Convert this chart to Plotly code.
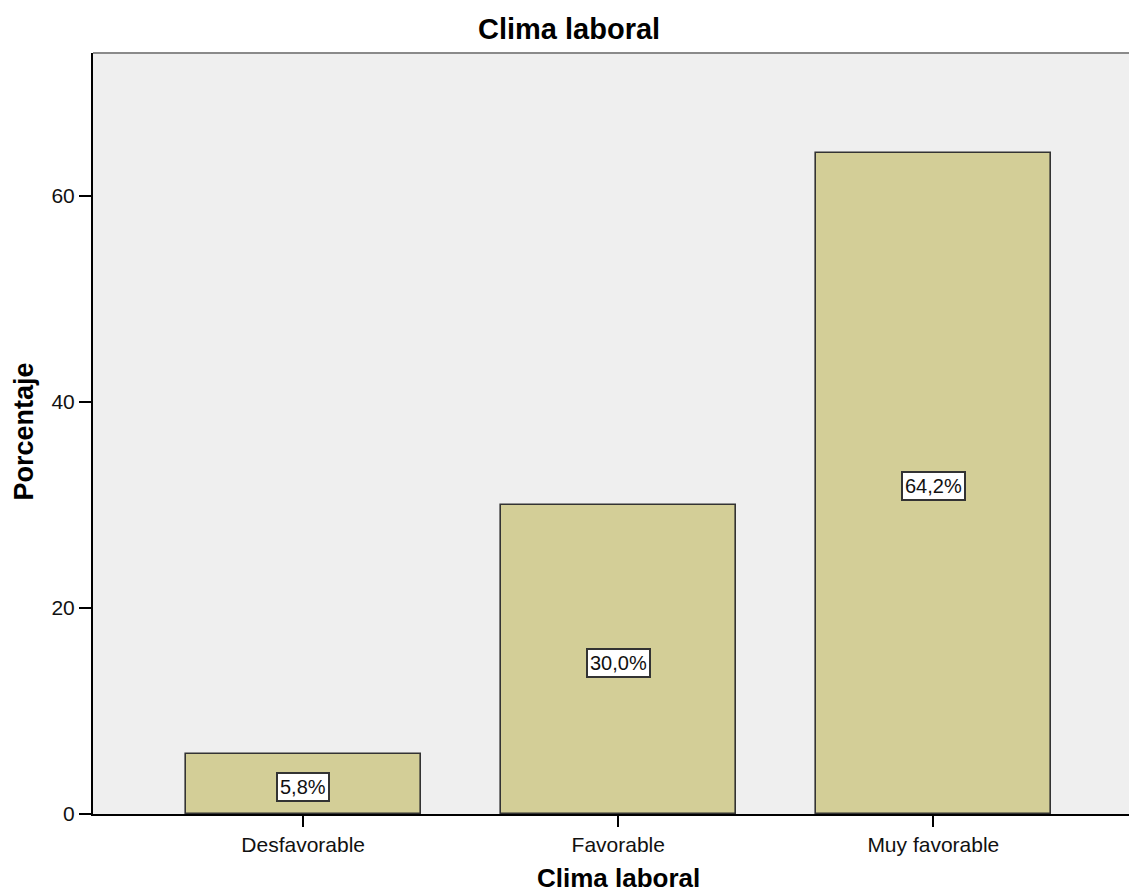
import plotly.graph_objects as go

# Distribution of "Clima laboral" responses (percent)
categories = ["Desfavorable", "Favorable", "Muy favorable"]
percentages = [5.8, 30.0, 64.2]
bar_labels = ["5,8%", "30,0%", "64,2%"]
y_ticks = [0, 20, 40, 60]

FONT = "Liberation Sans, Arial, sans-serif"
BAR_FILL = "#D3CE97"
BAR_EDGE = "#333333"

fig = go.Figure()
fig.add_trace(go.Bar(
    x=list(range(len(categories))),
    y=percentages,
    width=0.746,
    marker=dict(color=BAR_FILL, line=dict(color=BAR_EDGE, width=1.6)),
    hoverinfo="skip",
))

# Boxed value labels at mid-height of each bar
for i, (v, lab) in enumerate(zip(percentages, bar_labels)):
    fig.add_annotation(
        x=i, y=v / 2, text=lab, showarrow=False, yshift=-3,
        font=dict(family=FONT, size=20, color="#111111"),
        bgcolor="white", bordercolor="#333333", borderwidth=2, borderpad=2,
    )

# Chart title
fig.add_annotation(
    xref="paper", yref="paper", x=0.459, y=1, yshift=24,
    xanchor="center", yanchor="middle", showarrow=False,
    text="<b>Clima laboral</b>", font=dict(family=FONT, size=29, color="#000000"),
)
# X axis title
fig.add_annotation(
    xref="x", yref="paper", x=1, y=0, yshift=-64,
    xanchor="center", yanchor="middle", showarrow=False,
    text="<b>Clima laboral</b>", font=dict(family=FONT, size=26, color="#000000"),
)
# Y axis title
fig.add_annotation(
    xref="paper", yref="paper", x=0, xshift=-69, y=0.5026,
    xanchor="center", yanchor="middle", showarrow=False, textangle=-90,
    text="<b>Porcentaje</b>", font=dict(family=FONT, size=27, color="#000000"),
)

# Top frame line of the plotting area
fig.add_shape(type="line", xref="paper", yref="paper", x0=0, x1=1, y0=1, y1=1,
              line=dict(color="#8a8a8a", width=2))

fig.update_layout(
    width=1129, height=896,
    margin=dict(l=93, r=0, t=53, b=82),
    paper_bgcolor="white",
    plot_bgcolor="#EFEFEF",
    showlegend=False,
    bargap=0,
    font=dict(family=FONT, size=20, color="#111111"),
)
fig.update_xaxes(
    range=[-0.667, 2.621],
    tickmode="array", tickvals=list(range(len(categories))), ticktext=categories,
    ticks="outside", ticklen=11, tickwidth=1.5, tickcolor="#000000",
    showline=True, linecolor="#000000", linewidth=2,
    showgrid=False, zeroline=False,
    tickfont=dict(family=FONT, size=21, color="#111111"),
)
fig.update_yaxes(
    range=[0, 73.9],
    tickmode="array", tickvals=y_ticks, ticktext=[str(t) for t in y_ticks],
    ticks="outside", ticklen=12, tickwidth=1.5, tickcolor="#000000",
    showline=True, linecolor="#000000", linewidth=2,
    showgrid=False, zeroline=False,
    tickfont=dict(family=FONT, size=21, color="#111111"),
)

fig.write_html("out.html")
